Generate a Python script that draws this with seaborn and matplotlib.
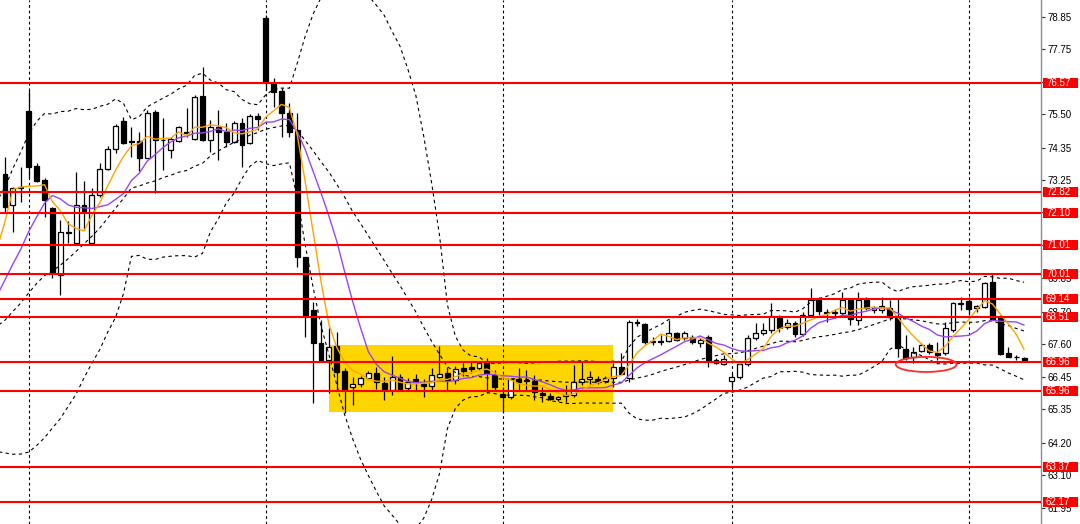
import numpy as np
import pandas as pd
import matplotlib
matplotlib.use('Agg')
import matplotlib.pyplot as plt
import matplotlib.transforms as mtransforms
from matplotlib.patches import Rectangle, Ellipse
import seaborn as sns

# ---- candle data (one value per bar) ----
opens = [73.45, 72.38, 72.95, 75.61, 73.72, 73.24, 72.27, 69.97, 71.45, 71.07,
         72.38, 71.07, 72.72, 73.62, 74.31, 75.27, 74.58, 74.58, 74.00, 75.58,
         74.62, 74.27, 74.58, 74.89, 74.65, 76.13, 74.62, 75.06, 74.89, 74.55,
         75.20, 74.51, 75.44, 78.82, 76.58, 76.30, 75.55, 74.96, 70.59, 68.76,
         67.63, 67.04, 67.52, 66.66, 66.11, 66.22, 66.42, 66.60, 66.25, 66.01,
         66.46, 66.08, 66.39, 66.22, 66.15, 66.46, 66.60, 66.35, 66.77, 66.80,
         66.77, 66.97, 66.53, 65.87, 65.77, 66.39, 66.35, 66.32, 65.91, 65.80,
         65.70, 65.82, 65.84, 66.29, 66.39, 66.39, 66.32, 66.42, 66.80, 66.42,
         68.35, 68.28, 67.70, 67.66, 67.69, 67.97, 67.80, 67.83, 67.63, 67.83,
         66.94, 66.90, 66.32, 66.46, 66.90, 67.80, 67.97, 68.07, 68.49, 68.18,
         68.32, 67.94, 68.59, 69.11, 68.69, 68.69, 68.66, 69.11, 68.42, 69.11,
         68.76, 68.76, 68.83, 68.52, 67.42, 67.15, 67.35, 67.56, 67.28, 67.28,
         68.07, 68.97, 69.07, 68.83, 68.87, 69.73, 68.49, 67.28, 67.15, 67.11]
highs = [74.03, 73.00, 73.69, 76.34, 73.82, 73.30, 72.30, 71.86, 71.83, 73.51,
         73.20, 72.96, 73.82, 74.41, 75.15, 75.41, 75.06, 74.89, 75.65, 75.65,
         75.37, 74.72, 75.10, 75.72, 76.17, 77.13, 75.30, 75.65, 75.20, 75.27,
         75.37, 75.50, 75.55, 78.92, 76.75, 76.41, 75.89, 75.55, 70.60, 69.04,
         68.42, 68.14, 68.00, 66.77, 66.46, 66.50, 66.66, 66.80, 66.46, 67.18,
         66.56, 66.42, 66.56, 66.39, 66.77, 67.52, 66.80, 66.85, 66.95, 66.97,
         67.00, 67.11, 66.70, 66.11, 66.42, 66.77, 66.70, 66.53, 66.10, 65.90,
         65.82, 66.18, 66.87, 66.97, 66.65, 66.50, 66.50, 66.94, 67.28, 68.42,
         68.45, 68.32, 67.83, 67.90, 68.42, 68.00, 68.05, 67.90, 67.80, 67.90,
         67.10, 67.20, 66.60, 66.95, 67.90, 68.32, 68.30, 69.00, 68.60, 68.45,
         68.40, 68.70, 69.52, 69.20, 68.80, 68.80, 69.38, 69.18, 69.38, 69.20,
         68.90, 69.20, 69.11, 69.14, 67.90, 67.49, 67.63, 67.63, 67.66, 68.35,
         69.05, 69.21, 69.20, 68.95, 69.73, 70.00, 68.60, 67.49, 67.20, 67.15]
lows = [72.10, 71.45, 72.48, 73.31, 73.17, 71.97, 69.87, 69.28, 71.07, 71.00,
        71.52, 71.00, 72.65, 73.60, 74.17, 74.48, 74.03, 73.55, 73.98, 72.79,
        73.58, 74.00, 74.55, 74.72, 74.62, 74.58, 74.20, 73.93, 74.38, 74.50,
        73.69, 74.48, 74.96, 76.34, 75.75, 74.72, 74.72, 70.24, 67.83, 65.56,
        66.97, 65.91, 66.01, 65.22, 65.49, 66.13, 66.38, 66.05, 65.67, 65.84,
        65.97, 65.98, 66.00, 65.77, 66.01, 66.44, 66.00, 66.20, 66.50, 66.60,
        66.70, 65.91, 65.97, 65.25, 65.70, 66.01, 66.00, 65.67, 65.60, 65.67,
        65.63, 65.60, 65.77, 66.18, 66.20, 66.20, 66.25, 66.11, 66.53, 66.29,
        68.20, 67.60, 67.56, 67.56, 67.66, 67.70, 67.72, 67.60, 67.50, 66.80,
        66.90, 66.88, 66.08, 66.40, 66.85, 67.72, 67.90, 67.97, 68.00, 68.10,
        67.85, 67.88, 68.52, 68.60, 68.35, 68.50, 68.59, 68.25, 68.25, 68.75,
        68.66, 68.66, 68.42, 67.15, 67.04, 66.94, 67.32, 67.25, 67.04, 67.21,
        68.00, 68.76, 68.60, 68.70, 68.83, 68.42, 67.20, 67.13, 67.05, 67.00]
closes = [72.31, 72.96, 72.99, 73.69, 73.20, 72.55, 70.04, 71.45, 71.42, 72.38,
          72.14, 72.72, 73.62, 74.31, 75.10, 74.51, 74.55, 74.00, 75.55, 74.62,
          74.60, 74.65, 75.06, 74.85, 76.10, 74.62, 75.06, 74.89, 74.55, 75.20,
          74.44, 75.44, 75.34, 76.61, 76.27, 75.55, 74.89, 70.59, 68.59, 67.63,
          67.04, 67.49, 66.63, 66.04, 66.22, 66.42, 66.60, 66.29, 66.01, 66.46,
          66.04, 66.29, 66.29, 66.15, 66.53, 66.56, 66.35, 66.73, 66.66, 66.73,
          66.94, 66.60, 66.11, 65.77, 66.39, 66.29, 66.33, 65.94, 65.84, 65.70,
          65.77, 65.84, 66.29, 66.39, 66.46, 66.29, 66.42, 66.80, 66.56, 68.35,
          68.30, 67.66, 67.66, 67.69, 67.97, 67.73, 67.97, 67.66, 67.73, 67.04,
          67.04, 67.08, 66.46, 66.90, 67.80, 67.97, 68.07, 68.56, 68.15, 68.32,
          67.94, 68.59, 69.11, 68.73, 68.66, 68.66, 69.11, 68.45, 69.11, 68.83,
          68.83, 68.90, 68.52, 67.46, 67.11, 67.32, 67.56, 67.32, 67.21, 68.14,
          69.00, 69.02, 68.80, 68.90, 69.69, 68.45, 67.25, 67.15, 67.13, 67.04]
# closes of the bars just left of the visible window (estimated from where
# the averages and bands enter the chart) - they only feed the indicators
prev_closes = [66.9, 67.2, 66.8, 66.7, 67.1, 66.9, 67.4, 67.0, 67.3, 66.95,
               67.5, 67.9, 67.6, 68.2, 67.8, 67.4, 72.6, 73.5, 73.2]

levels = [76.57, 72.82, 72.10, 71.01, 70.01, 69.14, 68.51, 66.96, 65.96, 63.37, 62.17]
yticks = [78.85, 77.75, 76.60, 75.50, 74.35, 73.25, 72.15, 71.00, 69.85, 68.70,
          67.60, 66.45, 65.35, 64.20, 63.10, 61.95]
separators = [3, 33, 63, 92, 122]

# annotation objects drawn on the chart
ZONE_X = (41, 77)
ZONE_Y = (65.26, 67.56)
CIRCLE_XY = (116.6, 66.89)
CIRCLE_WH = (7.7, 0.52)

sns.set_theme(style='white')
plt.rcParams['font.family'] = ['Liberation Sans', 'DejaVu Sans']

n = len(closes)
x = np.arange(n)
df = pd.DataFrame({'x': x, 'open': opens, 'high': highs, 'low': lows, 'close': closes})

# indicators: SMA5 (orange), SMA10 (purple), Bollinger 20,2 (dashed)
ext = pd.DataFrame({'x': np.arange(-len(prev_closes), n),
                    'close': prev_closes + closes})
ext['ma5'] = ext['close'].rolling(5, min_periods=1).mean()
ext['ma10'] = ext['close'].rolling(10, min_periods=1).mean()
ext['mid'] = ext['close'].rolling(20, min_periods=1).mean()
sd = ext['close'].rolling(20, min_periods=1).std(ddof=0).fillna(0)
ext['up'] = ext['mid'] + 2 * sd
ext['dn'] = ext['mid'] - 2 * sd

fig = plt.figure(figsize=(10.8, 5.24), dpi=100)
ax = fig.add_axes([0, 0, 1041 / 1080, 1])
ax.set_facecolor('white')

# yellow range box
ax.add_patch(Rectangle((ZONE_X[0], ZONE_Y[0]), ZONE_X[1] - ZONE_X[0], ZONE_Y[1] - ZONE_Y[0],
                       fc='#FFD500', ec='none', zorder=0.5))

for s in separators:
    ax.axvline(s, color='black', lw=0.8, linestyle=(0, (2.5, 2.5)), zorder=1)

# candles
ax.vlines(df['x'], df['low'], df['high'], color='black', lw=0.9, zorder=2)
bull = df['close'] >= df['open']
body_lo = np.minimum(df['open'], df['close'])
body_h = (df['close'] - df['open']).abs()
ax.bar(df['x'][bull], body_h[bull], bottom=body_lo[bull], width=0.62,
       color='white', edgecolor='black', linewidth=0.9, zorder=3)
ax.bar(df['x'][~bull], body_h[~bull], bottom=body_lo[~bull], width=0.62,
       color='black', edgecolor='black', linewidth=0.9, zorder=3)

# bands + moving averages
for col in ['up', 'mid', 'dn']:
    sns.lineplot(data=ext, x='x', y=col, ax=ax, color='black', linewidth=0.8,
                 linestyle=(0, (3, 3)), zorder=4)
sns.lineplot(data=ext, x='x', y='ma10', ax=ax, color='#9A45F5', linewidth=1.0, zorder=4)
sns.lineplot(data=ext, x='x', y='ma5', ax=ax, color='#FFA500', linewidth=1.0, zorder=4)

# horizontal levels
for lv in levels:
    ax.axhline(lv, color='#FF0000', lw=1.5, zorder=5)

ax.add_patch(Ellipse(CIRCLE_XY, CIRCLE_WH[0], CIRCLE_WH[1], fill=False,
                     ec='#FF2A2A', lw=1.3, zorder=6))

# axis on the right, MT4 style
for sp in ['top', 'left', 'bottom']:
    ax.spines[sp].set_visible(False)
ax.spines['right'].set_color('#8c8c8c')
ax.spines['right'].set_linewidth(1.0)
ax.set_xticks([])
ax.yaxis.tick_right()
ax.set_yticks(yticks)
ax.set_yticklabels([f'{t:.2f}' for t in yticks])
ax.tick_params(axis='y', length=3, width=0.8, color='#333333', labelsize=7,
               pad=2, labelcolor='black')
ax.set_xlabel('')
ax.set_ylabel('')

# red price tags for the levels (they sit on top of the tick labels, as in MT4)
trans = mtransforms.blended_transform_factory(ax.transAxes, ax.transData)
box_h = 10 / 29.05
for lv in levels:
    ax.add_patch(Rectangle((1 + 2 / 1041, lv - box_h / 2), 35 / 1041, box_h,
                           transform=trans, clip_on=False, fc='#FF0000', ec='none', zorder=10))
    ax.text(1 + 5 / 1041, lv, f'{lv:.2f}', transform=trans, color='white', fontsize=7,
            va='center', ha='left', zorder=11, clip_on=False)

ax.set_xlim(-5 / 7.9, 1036 / 7.9)
ax.set_ylim(61.397, 79.435)
fig.savefig('out.png', dpi=100, facecolor='white')
